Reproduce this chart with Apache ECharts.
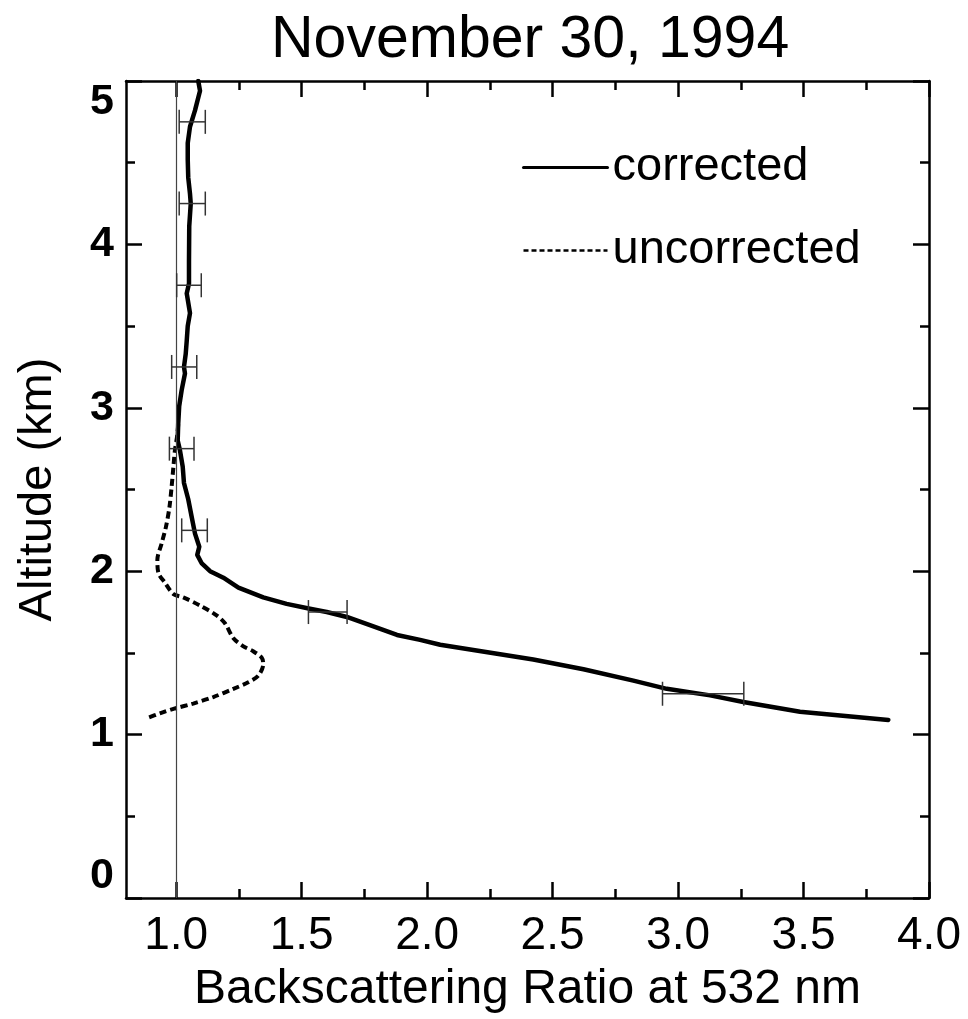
<!DOCTYPE html>
<html>
<head>
<meta charset="utf-8">
<script src="https://cdn.jsdelivr.net/npm/echarts@6/dist/echarts.min.js"></script>
<style>
html,body{margin:0;padding:0;background:#fff;}
#chart{width:968px;height:1019px;}
</style>
</head>
<body>
<div id="chart"></div>
<script>
// ---- data ----
const correctedAlt = [5.00,4.94,4.82,4.72,4.62,4.52,4.41,4.31,4.25,4.11,3.90,3.76,3.70,3.58,3.50,3.41,3.33,3.25,3.21,3.11,3.01,2.90,2.80,2.74,2.64,2.54,2.44,2.33,2.23,2.15,2.10,2.05,2.00,1.96,1.90,1.84,1.80,1.77,1.75,1.72,1.67,1.61,1.58,1.55,1.46,1.40,1.33,1.28,1.24,1.20,1.14,1.09];
const correctedRatio = [1.088,1.095,1.075,1.055,1.046,1.046,1.048,1.055,1.058,1.052,1.051,1.051,1.042,1.055,1.046,1.042,1.038,1.031,1.035,1.022,1.012,1.008,1.006,1.015,1.026,1.031,1.048,1.062,1.075,1.092,1.084,1.101,1.135,1.188,1.248,1.347,1.440,1.533,1.600,1.680,1.772,1.880,1.972,2.052,2.423,2.623,2.822,2.955,3.128,3.260,3.486,3.838];

const uncorrectedAlt = [2.90,2.84,2.74,2.64,2.52,2.39,2.27,2.17,2.07,1.99,1.93,1.86,1.84,1.79,1.73,1.68,1.59,1.54,1.51,1.47,1.43,1.36,1.32,1.28,1.23,1.19,1.16,1.13,1.10];
const uncorrectedRatio = [1.008,1.005,0.995,0.989,0.982,0.973,0.959,0.942,0.925,0.929,0.955,0.989,1.028,1.095,1.161,1.195,1.228,1.268,1.307,1.341,1.347,1.327,1.287,1.228,1.148,1.068,0.995,0.935,0.882];

const errAlt = [4.75,4.25,3.75,3.25,2.75,2.25,1.75,1.25];
const errCenter = [1.064,1.064,1.051,1.032,1.022,1.073,1.604,3.100];
const errHalf = [0.052,0.052,0.049,0.050,0.049,0.051,0.077,0.162];

const xMajorTicks = [1.0,1.5,2.0,2.5,3.0,3.5,4.0];
const xMinorTicks = [1.25,1.75,2.25,2.75,3.25,3.75];
const seriesNames = ['corrected','uncorrected'];

// ---- chart ----
const FONT = "'Liberation Sans', Arial, Helvetica, sans-serif";
const chart = echarts.init(document.getElementById('chart'), null, {renderer:'canvas'});

const corrData = correctedAlt.map((a,i)=>[correctedRatio[i], a]);
const uncData = uncorrectedAlt.map((a,i)=>[uncorrectedRatio[i], a]);
const errData = errAlt.map((a,i)=>[errCenter[i]-errHalf[i], errCenter[i]+errHalf[i], a]);

const axLine = {show:true, lineStyle:{color:'#000', width:2.5}};
function xAx(pos, ticks, len, showLine, labels){
  return {
    type:'value', position:pos, min:0.8, max:4.0,
    axisLine: showLine ? axLine : {show:false},
    axisTick:{show:true, inside:true, length:len, customValues:ticks, lineStyle:{color:'#000', width:2.5}},
    axisLabel: labels ? {show:true, customValues:ticks, formatter:v=>v.toFixed(1), fontSize:46, color:'#000', margin:15, fontFamily:FONT} : {show:false},
    splitLine:{show:false}
  };
}
const xAxes = [
  xAx('bottom', xMajorTicks, 16, true, true),
  xAx('bottom', xMinorTicks, 9, false, false),
  xAx('top', xMajorTicks, 16, true, false),
  xAx('top', xMinorTicks, 9, false, false)
];
xAxes[0].name = 'Backscattering Ratio at 532 nm';
xAxes[0].nameLocation = 'middle';
xAxes[0].nameGap = 68;
xAxes[0].nameTextStyle = {fontSize:48, color:'#000', fontFamily:FONT};

function yAx(pos, labels){
  const o = {
    type:'value', position:pos, min:0, max:5, interval:1,
    axisLine: axLine,
    axisTick:{show:true, inside:true, length:16, lineStyle:{color:'#000', width:2.5}},
    minorTick:{show:true, splitNumber:2, length:9, lineStyle:{color:'#000', width:2.5}},
    axisLabel: labels ? {show:true, fontSize:43, fontWeight:'bold', color:'#000', margin:12, fontFamily:FONT,
      verticalAlignMinLabel:'bottom', verticalAlignMaxLabel:'top'} : {show:false},
    splitLine:{show:false}, minorSplitLine:{show:false}
  };
  if (labels) {
    o.name = 'Altitude (km)';
    o.nameLocation = 'middle';
    o.nameGap = 64;
    o.nameRotate = 90;
    o.nameTextStyle = {fontSize:47, color:'#000', fontFamily:FONT};
  }
  return o;
}

const option = {
  backgroundColor:'#fff',
  animation:false,
  title:{
    text:'November 30, 1994', left:266, top:6,
    textStyle:{fontSize:59, fontWeight:'normal', color:'#000', fontFamily:FONT}
  },
  grid:{left:126, right:39, top:81, bottom:121, containLabel:false},
  legend:{
    orient:'vertical', left:517, top:139, itemWidth:84, itemHeight:20, itemGap:36,
    textStyle:{fontSize:47, color:'#000', fontFamily:FONT},
    data:[
      {name:seriesNames[0], lineStyle:{width:3, color:'#000', type:'solid'}, itemStyle:{color:'transparent', borderWidth:0, opacity:0}},
      {name:seriesNames[1], lineStyle:{width:2.5, color:'#000', type:[5,3]}, itemStyle:{color:'transparent', borderWidth:0, opacity:0}}
    ]
  },
  xAxis: xAxes,
  yAxis: [yAx('left', true), yAx('right', false)],
  series:[
    {
      name:seriesNames[1], type:'line', xAxisIndex:0, yAxisIndex:0, data:uncData,
      showSymbol:false, symbol:'none', smooth:0.3,
      lineStyle:{color:'#000', width:4, type:[7,4], cap:'butt'},
      itemStyle:{color:'#000'}, z:3
    },
    {
      name:seriesNames[0], type:'line', xAxisIndex:0, yAxisIndex:0, data:corrData,
      showSymbol:false, symbol:'none',
      lineStyle:{color:'#000', width:4.5, join:'round', cap:'round'},
      itemStyle:{color:'#000'}, z:4,
      markLine:{
        silent:true, symbol:'none', label:{show:false},
        lineStyle:{color:'#444', width:1.2, type:'solid'},
        data:[{xAxis:1.0}]
      }
    },
    {
      name:'errorbars', type:'custom', xAxisIndex:0, yAxisIndex:0, data:errData,
      encode:{x:[0,1], y:2}, z:5,
      renderItem:function(params, api){
        const p1 = api.coord([api.value(0), api.value(2)]);
        const p2 = api.coord([api.value(1), api.value(2)]);
        const h = 12;
        const st = {stroke:'#333', lineWidth:1.5, fill:null};
        return {type:'group', children:[
          {type:'line', shape:{x1:p1[0], y1:p1[1], x2:p2[0], y2:p2[1]}, style:st},
          {type:'line', shape:{x1:p1[0], y1:p1[1]-h, x2:p1[0], y2:p1[1]+h}, style:st},
          {type:'line', shape:{x1:p2[0], y1:p2[1]-h, x2:p2[0], y2:p2[1]+h}, style:st}
        ]};
      }
    }
  ]
};
chart.setOption(option);
</script>
</body>
</html>
